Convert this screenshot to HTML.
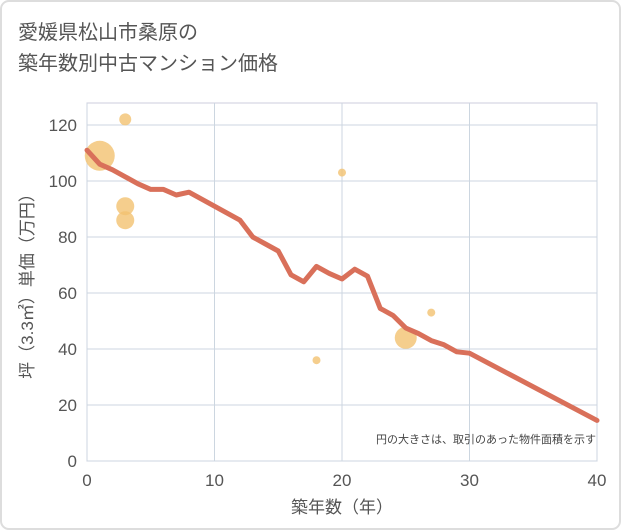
<!DOCTYPE html>
<html><head><meta charset="utf-8"><style>
body{margin:0;background:#fff;}
svg{display:block;font-family:"Liberation Sans","Noto Sans CJK JP",sans-serif;}
</style></head><body>
<svg id="c" width="621" height="530">
<rect x="1" y="1" width="619" height="528" rx="8" fill="#fff" stroke="#ddd" stroke-width="2"/>
<text x="18" y="39" font-size="20" fill="#555">愛媛県松山市桑原の</text>
<text x="18" y="70" font-size="20" fill="#555">築年数別中古マンション価格</text>
<rect x="87" y="103" width="510" height="358" fill="#fff" stroke="#ccd"/>
<g id="grid"></g><g id="bub"></g><g id="ln"></g><g id="ax"></g>
<text x="596" y="443" font-size="11" fill="#444" text-anchor="end">円の大きさは、取引のあった物件面積を示す</text>
<text x="342" y="513" font-size="17" fill="#555" text-anchor="middle">築年数（年）</text>
<text transform="translate(33,282) rotate(-90)" font-size="17" fill="#555" text-anchor="middle">坪（3.3㎡）単価（万円）</text>
</svg>
<script>
const xTicks=[0,10,20,30,40];
const yTicks=[0,20,40,60,80,100,120];
const lineYears=[0,1,2,3,4,5,6,7,8,9,10,11,12,13,14,15,16,17,18,19,20,21,22,23,24,25,26,27,28,29,30,40];
const lineValues=[111,106,104,101.5,99,97,97,95,96,93.5,91,88.5,86,80,77.5,75,66.5,64,69.5,67,65,68.5,66,54.5,52,47.5,45.5,43,41.5,39,38.5,14.5];
const bubYears=[1,3,3,3,18,20,25,27];
const bubValues=[109,122,91,86,36,103,44,53];
const bubSizes=[15,6,9,9,4,4,11,4];
const NS="http://www.w3.org/2000/svg";
const X=v=>87+v*12.75, Y=v=>461-v*2.8;
function mk(t,a,p){const e=document.createElementNS(NS,t);for(const k in a)e.setAttribute(k,a[k]);p.appendChild(e);return e;}
const g=document.getElementById('grid'),ax=document.getElementById('ax');
xTicks.forEach(t=>{const l=mk('line',{x1:X(t),x2:X(t),y1:103,y2:461,stroke:'#ccd6e0'},g);


const tx=mk('text',{x:X(t),y:486,'font-size':17,fill:'#555','text-anchor':'middle'},ax);tx.textContent=t;

});
yTicks.forEach(t=>{const l=mk('line',{x1:87,x2:597,y1:Y(t),y2:Y(t),stroke:'#ccd6e0'},g);


const tx=mk('text',{x:77,y:Y(t)+6,'font-size':17,fill:'#555','text-anchor':'end'},ax);tx.textContent=t;

});
const b=document.getElementById('bub');
bubYears.forEach((yr,i)=>{const c=mk('circle',{cx:X(yr),cy:Y(bubValues[i]),r:bubSizes[i],fill:'#f2c270',opacity:0.8},b);

});
const p=mk('polyline',{points:lineYears.map((yr,i)=>X(yr)+','+Y(lineValues[i])).join(' '),fill:'none',stroke:'#d9705a','stroke-width':5,'stroke-linejoin':'round','stroke-linecap':'round'},document.getElementById('ln'));


</script>
</body></html>
